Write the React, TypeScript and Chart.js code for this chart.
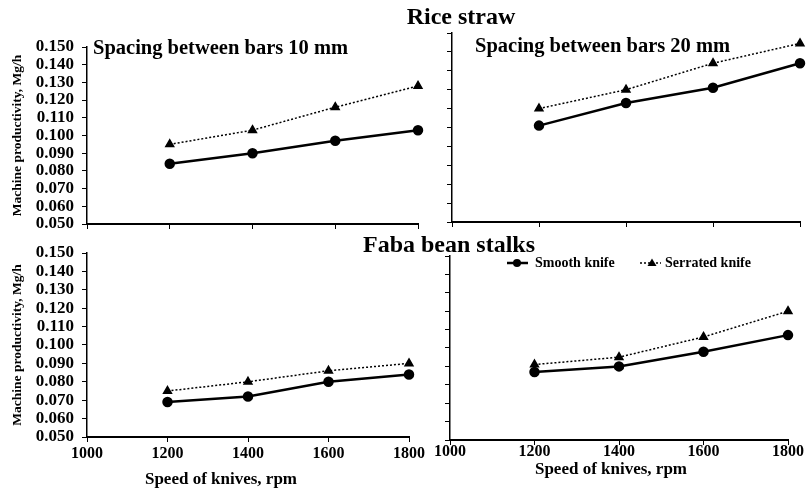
import React, { useEffect, useRef } from "react";
import { Chart, registerables } from "chart.js";

Chart.register(...registerables);

// ---- data ----
const speeds = [1200, 1400, 1600, 1800];
const xTickValues = [1000, 1200, 1400, 1600, 1800];
const yTickValues = [0.05, 0.06, 0.07, 0.08, 0.09, 0.1, 0.11, 0.12, 0.13, 0.14, 0.15];

const riceSmooth10 = [0.084, 0.090, 0.097, 0.103];
const riceSerrated10 = [0.095, 0.103, 0.116, 0.128];
const riceSmooth20 = [0.101, 0.113, 0.121, 0.134];
const riceSerrated20 = [0.110, 0.120, 0.134, 0.1445];
const fabaSmooth10 = [0.069, 0.072, 0.080, 0.084];
const fabaSerrated10 = [0.075, 0.080, 0.086, 0.090];
const fabaSmooth20 = [0.087, 0.090, 0.098, 0.107];
const fabaSerrated20 = [0.091, 0.095, 0.106, 0.120];

const seriesNames = ["Smooth knife", "Serrated knife"];
const yTitle = "Machine productivity, Mg/h";
const xTitle = "Speed of knives, rpm";
const topTitle = "Rice straw";
const bottomTitle = "Faba bean stalks";
const sub10 = "Spacing between bars 10 mm";
const sub20 = "Spacing between bars 20 mm";

const FONT = "'Liberation Serif', 'Times New Roman', serif";

type PanelCfg = {
  smooth: number[];
  serrated: number[];
  left: number;
  top: number;
  width: number;
  height: number;
  padTop: number;
  padRight: number;
  yW: number;
  xH: number;
  showYLabels: boolean;
  showXLabels: boolean;
  xTickPad: number;
};

const panels: PanelCfg[] = [
  { smooth: riceSmooth10, serrated: riceSerrated10, left: 0, top: 30, width: 440, height: 214, padTop: 17, padRight: 22, yW: 87, xH: 20, showYLabels: true, showXLabels: false, xTickPad: 2 },
  { smooth: riceSmooth20, serrated: riceSerrated20, left: 432, top: 20, width: 375, height: 212, padTop: 13, padRight: 7, yW: 20, xH: 10, showYLabels: false, showXLabels: false, xTickPad: 2 },
  { smooth: fabaSmooth10, serrated: fabaSerrated10, left: 0, top: 235, width: 429, height: 256, padTop: 18, padRight: 20, yW: 87, xH: 54, showYLabels: true, showXLabels: true, xTickPad: 2 },
  { smooth: fabaSmooth20, serrated: fabaSerrated20, left: 420, top: 240, width: 387, height: 240, padTop: 16, padRight: 19, yW: 30, xH: 40, showYLabels: false, showXLabels: true, xTickPad: -3 },
];

function PanelChart({ cfg }: { cfg: PanelCfg }) {
  const ref = useRef<HTMLCanvasElement | null>(null);
  useEffect(() => {
    if (!ref.current) return;
    const chart = new Chart(ref.current, {
      type: "line",
      data: {
        datasets: [
          {
            label: seriesNames[0],
            data: speeds.map((s, i) => ({ x: s, y: cfg.smooth[i] })),
            borderColor: "#000",
            backgroundColor: "#000",
            borderWidth: 2.5,
            pointStyle: "circle",
            pointRadius: 4,
            pointBackgroundColor: "#000",
            pointBorderColor: "#000",
            clip: false as any,
          },
          {
            label: seriesNames[1],
            data: speeds.map((s, i) => ({ x: s, y: cfg.serrated[i] })),
            borderColor: "#000",
            backgroundColor: "#000",
            borderWidth: 1.5,
            borderDash: [2, 2],
            pointStyle: "triangle",
            pointRadius: 4.5,
            pointBackgroundColor: "#000",
            pointBorderColor: "#000",
            clip: false as any,
          },
        ],
      },
      options: {
        responsive: false,
        maintainAspectRatio: false,
        animation: false,
        layout: { padding: { top: cfg.padTop, right: cfg.padRight, left: 0, bottom: 0 } },
        plugins: { legend: { display: false }, tooltip: { enabled: false }, title: { display: false } },
        scales: {
          x: {
            type: "linear",
            min: 1000,
            max: 1800,
            afterFit: (s: any) => {
              s.height = cfg.xH;
            },
            afterBuildTicks: (s: any) => {
              s.ticks = xTickValues.map((v) => ({ value: v }));
            },
            ticks: {
              display: cfg.showXLabels,
              autoSkip: false,
              maxRotation: 0,
              color: "#000",
              padding: cfg.xTickPad,
              font: { family: FONT, weight: "bold", size: 16 },
              callback: (v: any) => String(v),
            },
            grid: { drawOnChartArea: false, drawTicks: true, tickLength: 5, color: "#000", lineWidth: 1 },
            border: { display: true, color: "#000", width: 2 },
          },
          y: {
            type: "linear",
            min: 0.05,
            max: 0.15,
            afterFit: (s: any) => {
              s.width = cfg.yW;
            },
            afterBuildTicks: (s: any) => {
              s.ticks = yTickValues.map((v) => ({ value: v }));
            },
            ticks: {
              display: cfg.showYLabels,
              autoSkip: false,
              color: "#000",
              padding: 8,
              font: { family: FONT, weight: "bold", size: 17, lineHeight: 1 },
              callback: (v: any) => Number(v).toFixed(3),
            },
            grid: { drawOnChartArea: false, drawTicks: true, tickLength: 5, color: "#000", lineWidth: 1 },
            border: { display: true, color: "#000", width: 1.5 },
            title: {
              display: cfg.showYLabels,
              text: yTitle,
              color: "#000",
              font: { family: FONT, weight: "bold", size: 13.5 },
              padding: { top: 9, bottom: 0 },
            },
          },
        },
      } as any,
    });
    return () => chart.destroy();
  }, [cfg]);
  return (
    <canvas
      ref={ref}
      width={cfg.width}
      height={cfg.height}
      style={{ position: "absolute", left: cfg.left, top: cfg.top, width: cfg.width, height: cfg.height }}
    />
  );
}

const textBase: React.CSSProperties = {
  position: "absolute",
  fontFamily: FONT,
  fontWeight: "bold",
  color: "#000",
  whiteSpace: "nowrap",
  lineHeight: 1,
};

export default function App() {
  useEffect(() => {
    document.body.style.margin = "0";
  }, []);
  return (
    <div style={{ position: "fixed", left: 0, top: 0, width: 807, height: 491, background: "#fff", overflow: "hidden" }}>
      {panels.map((p, i) => (
        <PanelChart key={i} cfg={p} />
      ))}
      <div style={{ ...textBase, left: 461, top: 16, fontSize: 24, transform: "translate(-50%, -50%)" }}>{topTitle}</div>
      <div style={{ ...textBase, left: 449, top: 244, fontSize: 24, transform: "translate(-50%, -50%)" }}>{bottomTitle}</div>
      <div style={{ ...textBase, left: 93, top: 47, fontSize: 20.5, transform: "translateY(-50%)" }}>{sub10}</div>
      <div style={{ ...textBase, left: 475, top: 45, fontSize: 20.5, transform: "translateY(-50%)" }}>{sub20}</div>
      <div style={{ ...textBase, left: 221, top: 478, fontSize: 17, transform: "translate(-50%, -50%)" }}>{xTitle}</div>
      <div style={{ ...textBase, left: 611, top: 468, fontSize: 17, transform: "translate(-50%, -50%)" }}>{xTitle}</div>
      <svg style={{ position: "absolute", left: 0, top: 0 }} width={807} height={491}>
        <line x1={507} y1={263} x2={528} y2={263} stroke="#000" strokeWidth={2.5} />
        <circle cx={517} cy={263} r={4} fill="#000" />
        <line x1={640} y1={263} x2={661} y2={263} stroke="#000" strokeWidth={1.5} strokeDasharray="2 2" />
        <polygon points="652,258.5 656.5,266 647.5,266" fill="#000" />
      </svg>
      <div style={{ ...textBase, left: 535, top: 263, fontSize: 14, transform: "translateY(-50%)" }}>{seriesNames[0]}</div>
      <div style={{ ...textBase, left: 665, top: 263, fontSize: 14, transform: "translateY(-50%)" }}>{seriesNames[1]}</div>
    </div>
  );
}
